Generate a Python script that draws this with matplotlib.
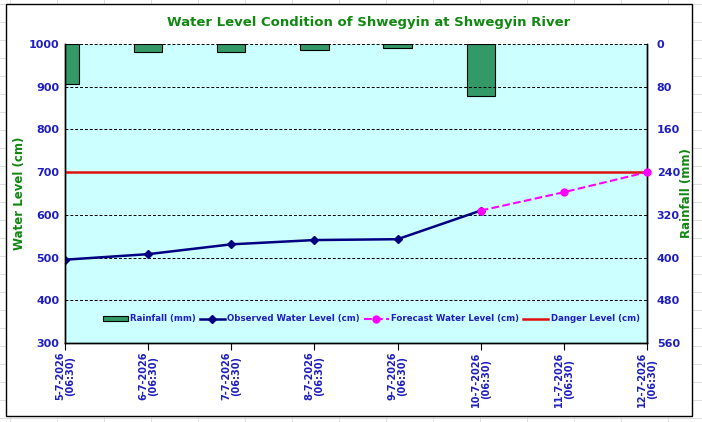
import matplotlib.pyplot as plt
import numpy as np
from matplotlib.lines import Line2D
from matplotlib.patches import Rectangle

dates = ["5-7-2026\n(06:30)", "6-7-2026\n(06:30)", "7-7-2026\n(06:30)", "8-7-2026\n(06:30)",
         "9-7-2026\n(06:30)", "10-7-2026\n(06:30)", "11-7-2026\n(06:30)", "12-7-2026\n(06:30)"]
rainfall = [75, 15, 15, 12, 8, 97, 0, 0]
observed = [495, 508, 531, 541, 543, 610]
forecast = [610, 653, 700]
danger = [700] * 8

blue = "#1f1fbf"
green = "#118811"

fig = plt.figure(figsize=(7.02, 4.22), dpi=100)
fig.patch.set_facecolor("white")

# spreadsheet cells behind the chart
for xp in np.arange(10, 702, 47):
    fig.add_artist(Line2D([xp / 702, xp / 702], [0, 1], color="#d8d8d8", lw=0.6, zorder=-3))
for yp in np.arange(4, 422, 18):
    fig.add_artist(Line2D([0, 1], [1 - yp / 422, 1 - yp / 422], color="#d8d8d8", lw=0.6, zorder=-3))
fig.add_artist(Rectangle((6 / 702, 1 - 416 / 422), 686 / 702, 412 / 422,
                         facecolor="white", edgecolor="black", lw=1.0, zorder=-2))

ax = fig.add_axes([65 / 702, 1 - 343 / 422, 582 / 702, 299 / 422])
x = np.arange(len(dates))

ax2 = ax.twinx()
edge_w = [0.8 if r > 0 else 0 for r in rainfall]
ax2.bar(x, rainfall, width=0.34, color="#339966", edgecolor="black", linewidth=edge_w,
        label="Rainfall (mm)", zorder=2)
ax2.set_ylim(560, 0)
ax2.set_yticks(np.arange(0, 561, 80))

ax.set_zorder(ax2.get_zorder() + 1)
ax.patch.set_visible(False)
ax2.patch.set_visible(True)
ax2.patch.set_facecolor("#ccffff")

ax.plot(x[:len(observed)], observed, color="#000080", lw=1.8, marker="D", ms=4,
        label="Observed Water Level (cm)")
ax.plot(x[5:5 + len(forecast)], forecast, color="#ff00ff", lw=1.5, ls="--", marker="o", ms=5,
        label="Forecast Water Level (cm)", clip_on=False, zorder=5)
ax.plot(x, danger, color="#e01010", lw=1.8, label="Danger Level (cm)")

ax.set_xlim(0, 7)
ax.set_ylim(300, 1000)
ax.set_yticks(np.arange(300, 1001, 100))
ax.grid(axis="y", color="black", ls=(0, (3, 2)), lw=0.7)
ax.set_xticks(x)
ax.set_xticklabels(dates, rotation=90, fontsize=7, fontweight="bold", color=blue,
                   linespacing=1.0)
ax.tick_params(axis="x", direction="out", length=5, pad=1)
ax.tick_params(axis="y", length=0, labelsize=8, labelcolor=blue, pad=4)
ax2.tick_params(axis="y", length=0, labelsize=8, labelcolor=blue, pad=7)
for lab in ax.get_yticklabels() + ax2.get_yticklabels():
    lab.set_fontweight("bold")

for a in (ax, ax2):
    for s in a.spines.values():
        s.set_color("black")
        s.set_linewidth(1.0)
ax.spines["top"].set_visible(False)
ax2.spines["top"].set_visible(False)

ax.set_ylabel("Water Level (cm)", color=green, fontsize=8.5, fontweight="bold", labelpad=2)
ax2.set_ylabel("Rainfall (mm)", color=green, fontsize=8.5, fontweight="bold", labelpad=0)
ax.set_title("Water Level Condition of Shwegyin at Shwegyin River", color=green,
             fontsize=9.5, fontweight="bold", pad=13, x=0.522)

h1, l1 = ax2.get_legend_handles_labels()
h2, l2 = ax.get_legend_handles_labels()
leg = ax.legend(h1 + h2, l1 + l2, loc="lower center", bbox_to_anchor=(0.526, 0.04), ncol=4,
                frameon=False, handlelength=2.9, handleheight=0.5, columnspacing=0.5,
                handletextpad=0.25, prop={"weight": "bold", "size": 6.2})
for t in leg.get_texts():
    t.set_color(blue)

fig.savefig("out.png", dpi=100)
